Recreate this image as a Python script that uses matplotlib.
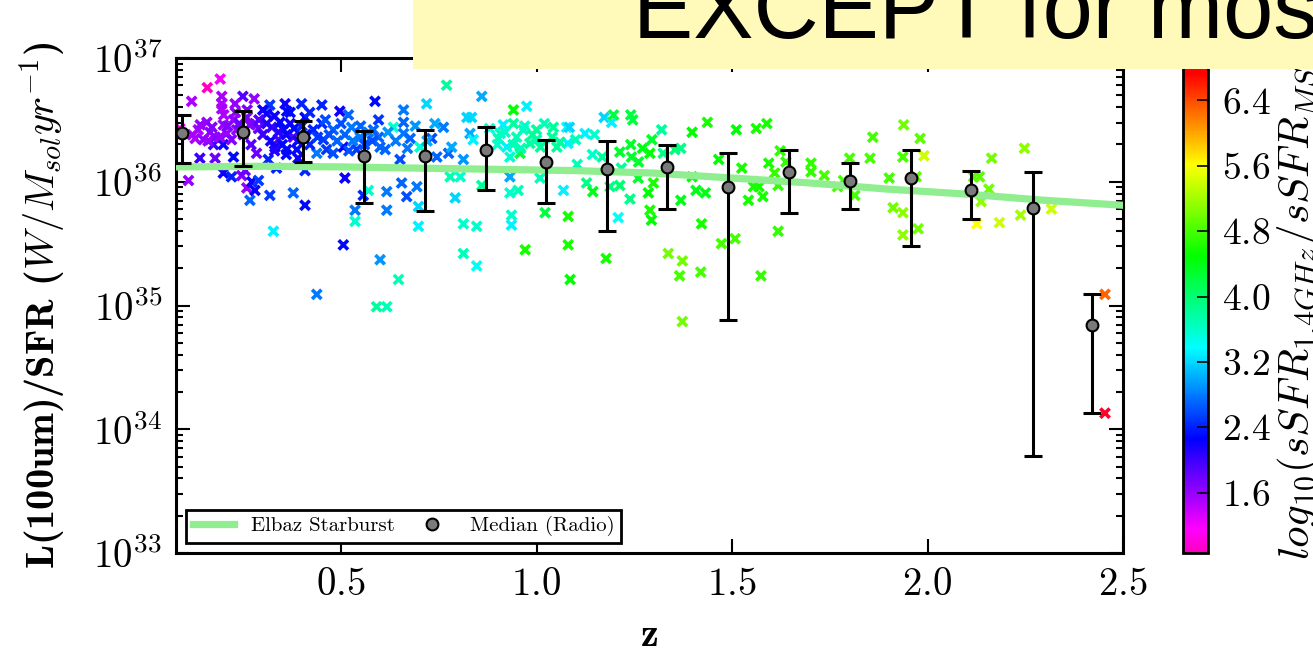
import matplotlib.pyplot as plt
import numpy as np
from matplotlib.patches import Rectangle

plt.rcParams['font.family'] = 'cmr10'
plt.rcParams['mathtext.fontset'] = 'cm'
plt.rcParams['axes.formatter.use_mathtext'] = True

# radio sources: redshift, log10 L(100um)/SFR, log10(sSFR_1.4GHz/sSFR_MS)
z_src = [0.158, 0.191, 0.118, 0.195, 0.195, 0.195, 0.249, 0.278, 0.229, 0.088,
         0.135, 0.157, 0.165, 0.127, 0.148, 0.178, 0.199, 0.208, 0.225, 0.233,
         0.259, 0.267, 0.280, 0.289, 0.174, 0.199, 0.139, 0.178, 0.110, 0.199,
         0.220, 0.225, 0.246, 0.255, 0.259, 0.272, 0.267, 0.289, 0.280, 0.318,
         0.327, 0.284, 0.310, 0.318, 0.323, 0.331, 0.340, 0.357, 0.361, 0.370,
         0.378, 0.387, 0.399, 0.408, 0.344, 0.353, 0.361, 0.314, 0.335, 0.408,
         0.378, 0.408, 0.438, 0.451, 0.451, 0.429, 0.455, 0.463, 0.438, 0.480,
         0.480, 0.497, 0.506, 0.519, 0.527, 0.510, 0.506, 0.540, 0.549, 0.536,
         0.536, 0.557, 0.570, 0.587, 0.596, 0.583, 0.596, 0.613, 0.600, 0.591,
         0.617, 0.617, 0.617, 0.634, 0.651, 0.660, 0.660, 0.660, 0.655, 0.668,
         0.647, 0.677, 0.694, 0.698, 0.698, 0.702, 0.719, 0.732, 0.745, 0.762,
         0.770, 0.775, 0.779, 0.783, 0.792, 0.805, 0.813, 0.813, 0.813, 0.822,
         0.834, 0.830, 0.838, 0.847, 0.847, 0.860, 0.860, 0.902, 0.907, 0.915,
         0.924, 0.932, 0.932, 0.932, 0.936, 0.936, 0.941, 0.941, 0.949, 0.953,
         0.958, 0.966, 0.971, 0.975, 0.983, 1.000, 1.000, 1.009, 1.022, 1.043,
         1.052, 1.069, 1.077, 1.081, 1.081, 1.086,
         1.128, 1.144, 1.178, 1.209, 1.213, 1.239, 1.260, 1.286, 1.290, 1.294,
         1.299, 1.337, 1.188, 1.213, 1.243, 1.290, 1.324,
         1.084, 1.080, 1.124, 1.148, 1.173, 1.192, 1.197, 1.241, 1.246, 1.143,
         1.168, 1.104, 1.217, 1.241, 1.261, 1.271, 1.295, 1.320, 1.354, 1.369,
         1.369, 1.398, 1.437, 1.398, 1.408, 1.432, 1.466, 1.525, 1.511, 1.562,
         1.589, 1.542, 1.555, 1.569, 1.579, 1.594, 1.609, 1.618, 1.623, 1.638,
         1.422, 1.618, 1.373, 1.366, 1.420, 1.473, 1.508, 1.574, 1.702, 1.702,
         1.736, 1.770, 1.785, 1.801, 1.814, 1.853, 1.860, 1.902, 1.912, 1.937,
         1.937, 1.939, 1.981, 1.991, 1.971, 1.937, 1.976, 2.118, 2.133, 2.137,
         2.157, 2.164, 2.126, 2.184, 2.238, 2.248, 2.317,
         1.373, 2.454, 2.454,
         0.12, 0.14, 0.16, 0.17, 0.19, 0.21, 0.22, 0.24, 0.25, 0.26,
         0.27, 0.23, 0.20, 0.29, 0.30,
         0.31, 0.32, 0.33, 0.34, 0.35, 0.36, 0.37, 0.38, 0.39, 0.40,
         0.41, 0.42, 0.36, 0.39, 0.33, 0.42, 0.44, 0.30,
         0.46, 0.47, 0.49, 0.50, 0.51, 0.52, 0.53, 0.55, 0.56, 0.57,
         0.58, 0.60, 0.62, 0.64, 0.67, 0.69, 0.72, 0.74,
         0.88, 0.90, 0.92, 0.94, 0.96, 0.97, 0.99, 1.01, 1.02, 1.04,
         1.06, 1.10]
logL_src = [36.76, 36.83, 36.65, 36.69, 36.63, 36.59, 36.69, 36.67, 36.63, 36.43,
            36.42, 36.48, 36.40, 36.35, 36.34, 36.36, 36.46, 36.39, 36.50, 36.42,
            36.52, 36.46, 36.47, 36.43, 36.30, 36.30, 36.19, 36.19, 36.01, 36.07,
            36.04, 36.20, 36.05, 36.09, 35.95, 36.00, 35.85, 36.01, 35.93, 35.89,
            35.60, 36.23, 36.55, 36.62, 36.44, 36.28, 36.34, 36.63, 36.57, 36.47,
            36.36, 36.26, 36.63, 36.52, 36.48, 36.42, 36.26, 36.18, 36.11, 36.09,
            35.91, 35.81, 35.09, 36.62, 36.47, 36.42, 36.34, 36.26, 36.23, 36.42,
            36.23, 36.57, 36.28, 36.54, 36.44, 36.03, 35.49, 36.26, 36.36, 35.77,
            35.68, 35.89, 35.93, 36.65, 36.50, 36.42, 36.36, 36.26, 35.37, 34.99,
            35.92, 35.77, 34.99, 36.44, 36.18, 36.58, 36.48, 36.39, 35.99, 35.88,
            35.21, 36.35, 35.96, 35.80, 35.64, 36.28, 36.63, 36.35, 36.20, 36.44,
            36.78, 36.23, 36.04, 36.28, 35.87, 36.04, 35.66, 35.42, 36.18, 36.52,
            36.52, 36.39, 36.34, 35.64, 35.32, 36.69, 35.97, 36.35, 36.39, 36.46,
            36.28, 36.20, 36.04, 35.91, 35.73, 35.65, 36.58, 36.47, 36.36, 35.93,
            36.23, 36.42, 35.45, 36.61, 36.31, 36.42, 36.34, 36.03, 35.75, 36.44,
            36.28, 35.93, 36.44, 35.72, 35.49, 35.21,
            35.99, 35.92, 35.38, 35.71, 35.97, 35.86, 36.03, 35.91, 35.77, 35.69,
            35.99, 35.42, 35.96, 36.24, 36.20, 36.23, 36.23,
            36.44, 36.31, 36.39, 36.38, 36.52, 36.48, 36.54, 36.54, 36.50, 36.22,
            36.20, 36.14, 36.11, 36.30, 36.16, 36.27, 36.34, 36.42, 36.26, 36.27,
            35.85, 36.40, 36.48, 36.04, 35.93, 35.91, 36.18, 36.11, 36.42, 36.43,
            36.47, 35.85, 35.96, 35.96, 35.88, 36.15, 36.07, 35.97, 36.25, 36.16,
            35.66, 35.60, 35.36, 35.24, 35.27, 35.50, 35.54, 35.24, 36.15, 36.08,
            36.05, 35.96, 36.01, 36.19, 35.89, 36.19, 36.36, 36.03, 35.79, 35.75,
            36.20, 36.46, 36.35, 36.21, 36.04, 35.57, 35.62, 36.04, 36.04, 35.84,
            35.94, 36.19, 35.66, 35.67, 35.73, 36.27, 35.78,
            34.87, 35.09, 34.13,
            36.38, 36.46, 36.33, 36.44, 36.36, 36.45, 36.34, 36.47, 36.38, 36.58,
            36.30, 36.56, 36.54, 36.50, 36.38,
            36.47, 36.33, 36.53, 36.40, 36.30, 36.38, 36.56, 36.43, 36.33, 36.45,
            36.38, 36.30, 36.22, 36.19, 36.25, 36.56, 36.36, 36.58,
            36.50, 36.38, 36.33, 36.47, 36.38, 36.25, 36.33, 36.45, 36.30, 36.40,
            36.33, 36.28, 36.40, 36.33, 36.27, 36.45, 36.33, 36.47,
            36.43, 36.30, 36.40, 36.30, 36.27, 36.45, 36.38, 36.28, 36.47, 36.36,
            36.32, 36.34]
c_src = [0.86, 1.2, 1.5, 1.5, 1.5, 1.5, 1.9, 1.6, 1.6, 1.1,
         1.5, 1.6, 1.6, 1.5, 1.6, 1.7, 1.6, 1.6, 1.6, 1.6,
         1.7, 1.7, 1.7, 1.8, 2.0, 2.2, 2.0, 1.8, 1.6, 2.2,
         2.4, 2.3, 1.7, 1.8, 1.6, 2.2, 2.7, 2.5, 2.2, 2.5,
         3.3, 1.8, 2.2, 2.5, 2.0, 2.2, 1.9, 2.2, 2.3, 2.2,
         1.9, 2.3, 2.4, 2.3, 2.3, 2.3, 2.2, 2.4, 2.4, 2.4,
         2.7, 2.3, 2.8, 2.4, 2.4, 2.4, 2.5, 2.5, 2.8, 2.7,
         2.6, 2.2, 2.3, 2.7, 2.8, 2.2, 2.3, 2.5, 2.8, 2.8,
         3.6, 2.4, 3.6, 2.3, 2.5, 2.7, 2.7, 2.7, 2.9, 3.8,
         2.8, 2.8, 3.7, 3.6, 2.6, 2.8, 2.7, 2.8, 2.7, 2.6,
         3.7, 2.7, 2.8, 3.2, 3.3, 3.6, 3.2, 2.6, 2.7, 2.8,
         3.8, 2.7, 3.7, 3.0, 3.2, 3.6, 3.6, 3.7, 2.9, 3.2,
         3.2, 3.0, 3.3, 3.6, 3.4, 3.0, 3.8, 3.7, 3.7, 3.3,
         3.3, 3.6, 3.0, 3.6, 3.6, 3.3, 4.5, 3.8, 3.7, 3.7,
         4.2, 3.7, 4.6, 3.3, 3.8, 3.8, 3.7, 3.7, 4.2, 3.8,
         3.8, 3.3, 3.4, 4.6, 4.6, 4.5,
         3.9, 4.4, 4.6, 3.4, 4.0, 3.9, 4.3, 4.5, 4.6, 4.5,
         4.6, 5.0, 3.9, 4.3, 4.3, 4.5, 3.9,
         3.2, 3.3, 3.3, 3.6, 3.2, 3.3, 4.2, 4.2, 4.2, 3.6,
         3.8, 3.7, 3.8, 4.3, 4.3, 4.4, 4.3, 3.8, 4.0, 3.9,
         4.4, 4.5, 4.6, 4.5, 4.4, 4.4, 4.5, 4.6, 4.5, 4.6,
         4.6, 4.6, 4.6, 4.6, 4.6, 4.6, 4.7, 4.7, 4.7, 4.7,
         4.6, 4.7, 5.0, 4.8, 4.8, 4.8, 4.8, 4.7, 4.7, 4.7,
         4.8, 4.8, 4.8, 4.8, 4.8, 4.8, 4.8, 4.8, 5.0, 5.1,
         4.8, 5.0, 4.9, 5.4, 4.9, 5.1, 5.0, 4.9, 4.9, 5.1,
         5.0, 5.0, 5.6, 5.4, 5.2, 5.1, 5.4,
         5.0, 6.3, 6.92,
         1.5, 1.6, 1.6, 1.7, 1.6, 1.7, 1.7, 1.8, 1.7, 1.7,
         1.9, 1.6, 1.5, 1.9, 2.0,
         2.1, 2.2, 2.2, 2.1, 2.3, 2.2, 2.3, 2.3, 2.2, 2.4,
         2.3, 2.4, 2.3, 2.2, 2.1, 2.4, 2.5, 2.2,
         2.6, 2.6, 2.7, 2.6, 2.7, 2.6, 2.8, 2.7, 2.6, 2.8,
         2.6, 2.7, 2.9, 2.8, 2.8, 2.9, 3.0, 3.0,
         3.5, 3.6, 3.6, 3.7, 3.7, 3.6, 3.8, 3.8, 3.7, 3.8,
         3.8, 3.7]

# medians per redshift bin with their spread
z_med = [0.094, 0.25, 0.403, 0.56, 0.714, 0.87, 1.025, 1.18,
         1.335, 1.49, 1.646, 1.802, 1.958, 2.11, 2.27, 2.42]
logL_med = [36.39, 36.40, 36.36, 36.21, 36.21, 36.26, 36.16, 36.10,
            36.12, 35.96, 36.08, 36.01, 36.03, 35.93, 35.79, 34.84]
logL_hi = [36.54, 36.57, 36.49, 36.41, 36.42, 36.44, 36.34, 36.33,
           36.30, 36.23, 36.26, 36.15, 36.26, 36.09, 36.08, 35.09]
logL_lo = [36.15, 36.13, 36.16, 35.83, 35.76, 35.93, 35.83, 35.60,
           35.78, 34.88, 35.75, 35.78, 35.48, 35.70, 33.78, 34.13]

# Elbaz et al. starburst relation
z_elbaz = [0.078, 0.3, 0.5, 0.7, 0.9, 1.1, 1.3, 1.5, 1.7, 1.9, 2.1, 2.3, 2.5]
logL_elbaz = [36.12, 36.125, 36.12, 36.11, 36.10, 36.09, 36.07, 36.03,
              35.99, 35.94, 35.90, 35.85, 35.81]

W, H = 1313, 656
fig = plt.figure(figsize=(W/100, H/100), dpi=100)
ax = fig.add_axes([176/W, 1-553/H, (1123-176)/W, (553-58)/H])
cax = fig.add_axes([1183/W, 1-553/H, 25/W, (553-58)/H])

sc = ax.scatter(z_src, 10**np.array(logL_src), c=c_src, cmap='gist_rainbow_r',
                vmin=0.86, vmax=6.92, marker='x', s=45, linewidths=2.6, zorder=2)
ax.plot(z_elbaz, 10**np.array(logL_elbaz), color='#90ee90', lw=5.2,
        label='Elbaz Starburst', zorder=3)

med = 10**np.array(logL_med)
yerr = [med - 10**np.array(logL_lo), 10**np.array(logL_hi) - med]
ax.errorbar(z_med, med, yerr=yerr, fmt='none', ecolor='k', elinewidth=2.2,
            capsize=6.5, capthick=2.2, zorder=4)
ax.plot(z_med, med, 'o', color='#7a7a7a', mec='k', mew=1.5, ms=8.5,
        label='Median (Radio)', zorder=5)

ax.set_yscale('log')
ax.set_xlim(0.078, 2.5)
ax.set_ylim(1e33, 1e37)
ax.set_xticks([0.5, 1.0, 1.5, 2.0, 2.5])
ax.tick_params(which='both', direction='in', top=True, right=True, width=1.5)
ax.tick_params(which='major', length=10, pad=10, labelsize=28)
ax.tick_params(which='minor', length=5)
for s in ax.spines.values():
    s.set_linewidth(2.2)

ax.set_xlabel('z', family='cmb10', fontsize=29, labelpad=12)
ax.set_ylabel('L(100um)/SFR ($W/M_{sol}yr^{-1}$)', family='cmb10',
              fontsize=29, labelpad=18)

leg = ax.legend(loc='lower left', ncol=2, fontsize=15, fancybox=False,
                framealpha=1, edgecolor='k', handlelength=2.0,
                columnspacing=0.8, handletextpad=0.8, borderpad=0.3)
leg.get_frame().set_linewidth(2)

cb = fig.colorbar(sc, cax=cax)
cb.set_ticks([1.6, 2.4, 3.2, 4.0, 4.8, 5.6, 6.4])
cb.ax.tick_params(direction='in', length=8, width=1.2, labelsize=27, pad=10)
cb.outline.set_linewidth(2)
cb.set_label('$log_{10}(sSFR_{1.4GHz}/sSFR_{MS})$', fontsize=31, labelpad=3)

# slide banner across the top
fig.add_artist(Rectangle((413/W, 1-69/H), 1, 69/H, transform=fig.transFigure,
                         facecolor='#fff9ba', edgecolor='none', zorder=10))
fig.text(633/W, 1-38/H, 'EXCEPT for most', family='Liberation Sans',
         fontsize=65, va='baseline', ha='left', zorder=11)

fig.savefig('out.png', dpi=100)
